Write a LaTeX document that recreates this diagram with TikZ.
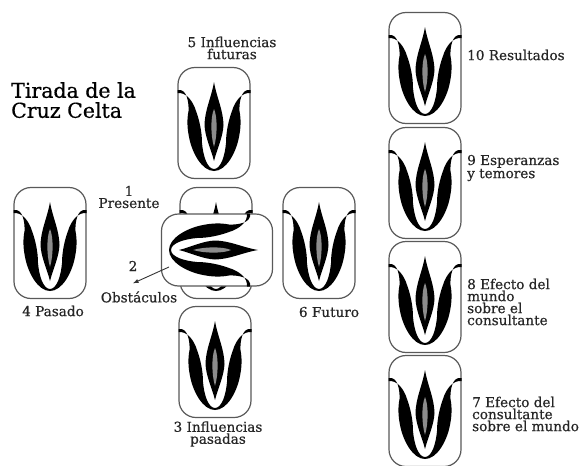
\documentclass[tikz,border=0pt]{standalone}
\usepackage{fontspec}
\setmainfont{DejaVu Serif}
\newfontfamily\heavyfont[FakeBold=0.6]{DejaVu Serif}
\tikzset{
  x=1pt,y=-1pt,
  lbl/.style={inner sep=0pt,font=\heavyfont\fontsize{13.6}{12}\selectfont,align=left,text=black!85},
  lblc/.style={lbl,align=center},
  pics/tarot/.style={code={
    \path[draw=black!65,line width=1.2pt,fill=white,rounded corners=17pt] (-36,-55.5) rectangle (36,55.5);
    \fill[black] (-36.5,-33) .. controls (-27,-35) and (-25,-20) .. (-25.5,-12)
      .. controls (-27,-4) and (-27,4) .. (-25,14)
      .. controls (-22,30) and (-12,48) .. (0,48)
      .. controls (12,48) and (22,30) .. (25,14)
      .. controls (27,4) and (27,-4) .. (25.5,-12)
      .. controls (25,-20) and (27,-35) .. (36.5,-33)
      -- (36.5,-30) .. controls (28,-31) and (21,-22) .. (18,-12)
      .. controls (15,-4) and (12,8) .. (12,20)
      .. controls (11,32) and (7,46) .. (0,46)
      .. controls (-7,46) and (-11,32) .. (-12,20)
      .. controls (-12,8) and (-15,-4) .. (-18,-12)
      .. controls (-21,-22) and (-28,-31) .. (-36.5,-30) -- cycle;
    \fill[black] (0,-41) .. controls (3,-24) and (9,-14) .. (9.5,2)
      .. controls (9,14) and (3,26) .. (0,38)
      .. controls (-3,26) and (-9,14) .. (-9.5,2)
      .. controls (-9,-14) and (-3,-24) .. (0,-41) -- cycle;
    \fill[black!45] (0,-14) .. controls (3.5,-6) and (3.5,12) .. (0,24)
      .. controls (-3.5,12) and (-3.5,-6) .. (0,-14) -- cycle;
  }}
}
\begin{document}
\begin{tikzpicture}
\useasboundingbox (0,0) rectangle (584,466);
\pic (c5) at (214,123) {tarot};
\pic (c1) at (216,243) {tarot};
\pic (c3) at (215,362) {tarot};
\pic (c4) at (50,243) {tarot};
\pic (c6) at (319,243) {tarot};
\pic (c10) at (425,68) {tarot};
\pic (c9) at (425,183) {tarot};
\pic (c8) at (425,297) {tarot};
\pic (c7) at (425,411) {tarot};
\pic[rotate=-90] (c2) at (217,250) {tarot};
\node[inner sep=0pt,font=\heavyfont\fontsize{20.5}{20}\selectfont,align=left,anchor=north west] (title) at (11,82) {Tirada de la\\Cruz Celta};
\node[lblc] (l5) at (232,48) {5 Influencias\\futuras};
\node[lblc] (l1) at (129,197) {1\\Presente};
\node[lblc] (l2) at (133,266) {2};
\node[lblc] (l2b) at (139,297) {Obstáculos};
\node[lblc] (l4) at (53,311) {4 Pasado};
\node[lblc] (l6) at (329,312) {6 Futuro};
\node[lblc] (l3) at (218,434) {3 Influencias\\pasadas};
\node[lbl,anchor=west] (l10) at (467,55) {10 Resultados};
\node[lbl,anchor=west] (l9) at (467,168) {9 Esperanzas\\y temores};
\node[lbl,anchor=west] (l8) at (467,302) {8 Efecto del\\mundo\\sobre el\\consultante};
\node[lbl,anchor=west] (l7) at (472,414) {7 Efecto del\\consultante\\sobre el mundo};
\coordinate (a2) at (169,267);
\draw[-latex,black!80,line width=.9pt] (a2) -- ([xshift=-6pt,yshift=8pt]l2b.north);
\end{tikzpicture}
\end{document}
